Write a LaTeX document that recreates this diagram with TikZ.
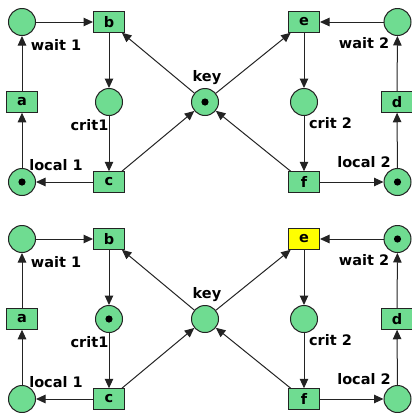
\documentclass[tikz,border=0pt]{standalone}
\usepackage{fontspec}
\setmainfont{DejaVu Sans}
\usetikzlibrary{arrows.meta}

\definecolor{netgreen}{RGB}{111,220,145}
\definecolor{netline}{RGB}{35,35,35}
\definecolor{firing}{RGB}{255,255,0}

\tikzset{
  netfont/.style={font=\bfseries\fontsize{14.5}{14.5}\selectfont},
  place/.style={circle, draw=netline, fill=netgreen, line width=1pt,
                minimum size=27pt, inner sep=0pt},
  marked/.style={path picture={\fill[black] (path picture bounding box.center) circle (3.6pt);}},
  trans/.style={rectangle, draw=netline, fill=netgreen, line width=1pt,
                minimum width=31pt, minimum height=20.5pt, inner sep=0pt, netfont},
  enabled/.style={fill=firing},
  arc/.style={draw=netline, line width=1pt, -{Triangle[length=9.5pt,width=8.5pt]}},
  lbl/.style={netfont, inner sep=0pt, anchor=base}
}

\begin{document}
\begin{tikzpicture}[x=1pt, y=-1pt]
\useasboundingbox (0,0) rectangle (412,413);

% ---------- first state: both processes in their local section ----------
\begin{scope}[name prefix=s1-]
  \node[place] (wait1) at (22,22) {};
  \node[trans] (b) at (109,22) {b};
  \node[trans] (a) at (22,102) {a};
  \node[place] (crit1) at (109,102) {};
  \node[place, marked] (local1) at (22,182) {};
  \node[trans] (c) at (109,182) {c};
  \node[place, marked] (key) at (205,102) {};
  \node[trans] (e) at (304,22) {e};
  \node[place] (wait2) at (397.5,22) {};
  \node[trans] (d) at (397,102) {d};
  \node[place] (crit2) at (304,102) {};
  \node[trans] (f) at (304,182) {f};
  \node[place, marked] (local2) at (397.5,182) {};

  \node[lbl] (lw1) at (56,50) {wait 1};
  \node[lbl] (lc1) at (89.5,130) {crit1};
  \node[lbl] (ll1) at (56,170) {local 1};
  \node[lbl] (lk) at (207,81) {key};
  \node[lbl] (lw2) at (364,48) {wait 2};
  \node[lbl] (lc2) at (330.5,128) {crit 2};
  \node[lbl] (ll2) at (364,167.5) {local 2};

  \draw[arc] (local1) -- (a);
  \draw[arc] (a) -- (wait1);
  \draw[arc] (wait1) -- (b);
  \draw[arc] (b) -- (crit1);
  \draw[arc] (crit1) -- (c);
  \draw[arc] (c) -- (local1);
  \draw[arc] (key) -- (b);
  \draw[arc] (c) -- (key);
  \draw[arc] (key) -- (e);
  \draw[arc] (f) -- (key);
  \draw[arc] (local2) -- (d);
  \draw[arc] (d) -- (wait2);
  \draw[arc] (wait2) -- (e);
  \draw[arc] (e) -- (crit2);
  \draw[arc] (crit2) -- (f);
  \draw[arc] (f) -- (local2);
\end{scope}

% ---------- second state: process 1 critical, process 2 waiting ----------
\begin{scope}[name prefix=s2-, yshift=-217pt]
  \node[place] (wait1) at (22,22) {};
  \node[trans] (b) at (109,22) {b};
  \node[trans] (a) at (22,102) {a};
  \node[place, marked] (crit1) at (109,102) {};
  \node[place] (local1) at (22,182) {};
  \node[trans] (c) at (109,182) {c};
  \node[place] (key) at (205,102) {};
  \node[trans, enabled] (e) at (304,22) {e};
  \node[place, marked] (wait2) at (397.5,22) {};
  \node[trans] (d) at (397,102) {d};
  \node[place] (crit2) at (304,102) {};
  \node[trans] (f) at (304,182) {f};
  \node[place] (local2) at (397.5,182) {};

  \node[lbl] (lw1) at (56,50) {wait 1};
  \node[lbl] (lc1) at (89.5,130) {crit1};
  \node[lbl] (ll1) at (56,170) {local 1};
  \node[lbl] (lk) at (207,81) {key};
  \node[lbl] (lw2) at (364,48) {wait 2};
  \node[lbl] (lc2) at (330.5,128) {crit 2};
  \node[lbl] (ll2) at (364,167.5) {local 2};

  \draw[arc] (local1) -- (a);
  \draw[arc] (a) -- (wait1);
  \draw[arc] (wait1) -- (b);
  \draw[arc] (b) -- (crit1);
  \draw[arc] (crit1) -- (c);
  \draw[arc] (c) -- (local1);
  \draw[arc] (key) -- (b);
  \draw[arc] (c) -- (key);
  \draw[arc] (key) -- (e);
  \draw[arc] (f) -- (key);
  \draw[arc] (local2) -- (d);
  \draw[arc] (d) -- (wait2);
  \draw[arc] (wait2) -- (e);
  \draw[arc] (e) -- (crit2);
  \draw[arc] (crit2) -- (f);
  \draw[arc] (f) -- (local2);
\end{scope}
\end{tikzpicture}
\end{document}
